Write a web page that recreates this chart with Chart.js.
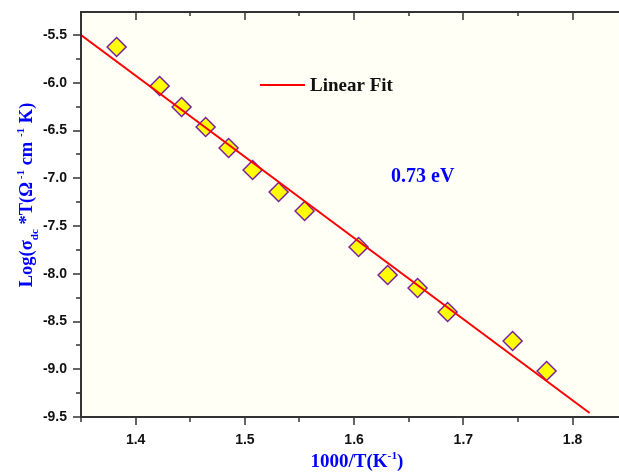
<!DOCTYPE html>
<html>
<head>
<meta charset="utf-8">
<script src="https://cdn.jsdelivr.net/npm/chart.js@4"></script>
<style>
  body { margin: 0; background: #fff; }
  canvas { display: block; }
</style>
</head>
<body>
<canvas id="arrhenius" width="619" height="472"></canvas>
<script>
// data
const invTemp = [1.3826, 1.4220, 1.4421, 1.4641, 1.4851, 1.5071, 1.5309, 1.5547, 1.6041, 1.6307, 1.6581, 1.6856, 1.7451, 1.7762];
const logSigmaT = [-5.626, -6.034, -6.254, -6.463, -6.683, -6.914, -7.144, -7.343, -7.720, -8.013, -8.149, -8.401, -8.704, -9.018];

// linear fit end points
const fitX = [1.35, 1.8156];
const fitY = [-5.5, -9.458];

const xTicks = [1.4, 1.5, 1.6, 1.7, 1.8];
const xMinor = [1.35, 1.45, 1.55, 1.65, 1.75];
const yTicks = [-5.5, -6.0, -6.5, -7.0, -7.5, -8.0, -8.5, -9.0, -9.5];
const yMinor = [-5.75, -6.25, -6.75, -7.25, -7.75, -8.25, -8.75, -9.25];

const serifBold = 'bold {s}px "Liberation Serif", "Times New Roman", serif';
const font = (s) => serifBold.replace('{s}', s);

// draws text made of pieces, some raised or lowered
function richText(ctx, parts, size, cx, cy) {
  let total = 0;
  parts.forEach(p => {
    ctx.font = font(size * (p.scale || 1));
    p.w = ctx.measureText(p.t).width;
    total += p.w;
  });
  let x = cx - total / 2;
  ctx.textAlign = 'left';
  ctx.textBaseline = 'alphabetic';
  parts.forEach(p => {
    ctx.font = font(size * (p.scale || 1));
    ctx.fillText(p.t, x, cy + (p.dy || 0) * size);
    x += p.w;
  });
}

const noPad = s => { s.paddingTop = 0; s.paddingBottom = 0; s.paddingLeft = 0; s.paddingRight = 0; };

const decorations = {
  id: 'decorations',
  beforeDraw(chart) {
    const { ctx, chartArea: a } = chart;
    ctx.save();
    ctx.fillStyle = '#fffff6';
    ctx.fillRect(a.left, a.top, a.right - a.left, a.bottom - a.top);
    ctx.restore();
  },
  afterDraw(chart) {
    const { ctx, chartArea: a, scales } = chart;
    const xs = scales.x, ys = scales.y;
    ctx.save();
    ctx.strokeStyle = '#333';
    ctx.lineWidth = 2;
    ctx.beginPath();
    // box: left, bottom, top
    ctx.moveTo(a.left, a.top); ctx.lineTo(a.left, a.bottom + 1);
    ctx.moveTo(a.left - 1, a.bottom); ctx.lineTo(a.right, a.bottom);
    ctx.moveTo(a.left - 1, a.top); ctx.lineTo(a.right, a.top);
    ctx.stroke();

    ctx.lineWidth = 1.5;
    ctx.beginPath();
    xTicks.forEach(v => {
      const px = Math.round(xs.getPixelForValue(v));
      ctx.moveTo(px, a.bottom); ctx.lineTo(px, a.bottom + 8);
      ctx.moveTo(px, a.top); ctx.lineTo(px, a.top + 8);
    });
    xMinor.forEach(v => {
      const px = Math.round(xs.getPixelForValue(v));
      ctx.moveTo(px, a.bottom); ctx.lineTo(px, a.bottom + 5);
      ctx.moveTo(px, a.top); ctx.lineTo(px, a.top + 4);
    });
    yTicks.forEach(v => {
      const py = Math.round(ys.getPixelForValue(v));
      ctx.moveTo(a.left, py); ctx.lineTo(a.left - 8, py);
    });
    yMinor.forEach(v => {
      const py = Math.round(ys.getPixelForValue(v));
      ctx.moveTo(a.left, py); ctx.lineTo(a.left - 5, py);
    });
    ctx.stroke();

    // legend
    ctx.strokeStyle = '#ff0000';
    ctx.lineWidth = 2;
    ctx.beginPath();
    ctx.moveTo(260, 85); ctx.lineTo(305, 85);
    ctx.stroke();
    ctx.fillStyle = '#111';
    ctx.font = font(19);
    ctx.textAlign = 'left';
    ctx.textBaseline = 'middle';
    ctx.fillText('Linear Fit', 310, 86);

    // activation energy
    ctx.fillStyle = '#0000ff';
    ctx.font = font(20);
    ctx.fillText('0.73 eV', 391, 177);

    // x title
    richText(ctx, [
      { t: '1000/T(K' },
      { t: '-1', scale: 0.6, dy: -0.4 },
      { t: ')' }
    ], 19, 357, 467);

    // y title
    ctx.translate(32, 195);
    ctx.rotate(-Math.PI / 2);
    richText(ctx, [
      { t: 'Log(σ' },
      { t: 'dc', scale: 0.6, dy: 0.3 },
      { t: ' *T(Ω' },
      { t: ' -1', scale: 0.6, dy: -0.45 },
      { t: ' cm ' },
      { t: '-1', scale: 0.6, dy: -0.45 },
      { t: ' K)' }
    ], 18.5, 0, 0);
    ctx.restore();
  }
};

new Chart(document.getElementById('arrhenius'), {
  type: 'scatter',
  data: {
    datasets: [
      {
        label: 'Linear Fit',
        data: fitX.map((x, i) => ({ x, y: fitY[i] })),
        showLine: true,
        borderColor: '#ff0000',
        borderWidth: 2,
        pointRadius: 0
      },
      {
        label: 'data',
        data: invTemp.map((x, i) => ({ x, y: logSigmaT[i] })),
        pointStyle: 'rectRot',
        pointRadius: 9.5,
        backgroundColor: '#ffff00',
        borderColor: '#7a1fa0',
        borderWidth: 1.5
      }
    ]
  },
  options: {
    responsive: false,
    devicePixelRatio: 1,
    animation: false,
    layout: { autoPadding: false, padding: { top: 12, right: 0, left: 0, bottom: 0 } },
    plugins: { legend: { display: false }, tooltip: { enabled: false } },
    scales: {
      x: {
        type: 'linear',
        min: 1.35,
        max: 1.8425,
        grid: { display: false, drawTicks: false },
        border: { display: false },
        afterBuildTicks: s => { s.ticks = xTicks.map(v => ({ value: v })); },
        afterFit: s => { s.height = 55; noPad(s); },
        ticks: {
          padding: 15,
          color: '#111',
          font: { family: '"Liberation Sans", Arial, sans-serif', size: 14, weight: 'bold' },
          callback: v => v.toFixed(1)
        }
      },
      y: {
        min: -9.5,
        max: -5.259,
        grid: { display: false, drawTicks: false },
        border: { display: false },
        afterBuildTicks: s => { s.ticks = yTicks.map(v => ({ value: v })); },
        afterFit: s => { s.width = 81; noPad(s); },
        ticks: {
          padding: 14,
          color: '#111',
          font: { family: '"Liberation Sans", Arial, sans-serif', size: 14, weight: 'bold' },
          callback: v => v.toFixed(1)
        }
      }
    }
  },
  plugins: [decorations]
});
</script>
</body>
</html>
